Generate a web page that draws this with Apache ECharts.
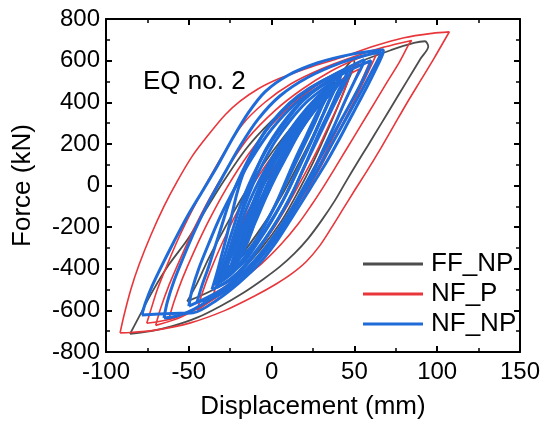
<!DOCTYPE html>
<html>
<head>
<meta charset="utf-8">
<script src="https://cdn.jsdelivr.net/npm/echarts@6/dist/echarts.min.js"></script>
<style>
  html, body { margin: 0; padding: 0; background: #fff; }
  #chart { width: 544px; height: 426px; }
</style>
</head>
<body>
<div id="chart"></div>
<script>
// Hysteresis loops, displacement (mm) vs force (kN), EQ no. 2
const seriesNames = ['FF_NP', 'NF_P', 'NF_NP'];

// FF_NP loops (each closed: upper branch, then lower branch back to start)
const ffLoopLarge = [
  [-85.5,-713],[-80,-630],[-72,-510],[-62,-380],[-51,-262],[-40,-120],[-29,20],[-15,180],[0,310],[15,415],[32,510],[52,590],[72,650],[86,685],[92.6,693],
  [94.6,668],[90,610],[82,505],[74,400],[66,295],[58,190],[51,100],[45,20],[38,-75],[30,-170],[22,-255],[14,-325],[5,-390],[-5,-450],[-17,-515],[-31,-580],[-45,-635],[-60,-676],[-73,-700],[-85.5,-713]
];
const ffLoopMid = [
  [-51,-557],[-45,-470],[-38,-350],[-28,-200],[-18,-60],[-6,90],[8,240],[22,370],[35,480],[44,560],[49.3,604],
  [50,590],[46,500],[40,380],[33,250],[25,110],[16,-30],[6,-170],[-6,-300],[-20,-420],[-35,-500],[-51,-557]
];
const ffLoopSmall = [
  [-30,-420],[-24,-300],[-15,-150],[-5,0],[7,150],[20,300],[30,410],[38,500],
  [38,480],[33,380],[25,240],[16,100],[6,-50],[-6,-200],[-18,-330],[-30,-420]
];

// NF_P loops
const nfpLoopOuter = [
  [-91.5,-708],[-89,-620],[-85,-500],[-80,-380],[-73,-240],[-65,-100],[-57,20],[-48,140],[-38,245],[-28,340],[-19,405],[-8,465],[5,515],[22,565],[42,615],[62,670],[80,710],[97,731],[107.3,738],
  [105.7,716],[98,610],[90,505],[82,400],[74,290],[66,180],[58,75],[50,-25],[43,-115],[36,-205],[29,-290],[21,-365],[12,-425],[3,-472],[-10,-530],[-28,-600],[-49,-660],[-70,-695],[-85,-706],[-91.5,-708]
];
const nfpLoop2 = [
  [-75.4,-662],[-73,-600],[-69,-500],[-63,-380],[-56,-250],[-48,-120],[-40,0],[-30,140],[-18,290],[-4,400],[12,490],[30,560],[50,620],[68,665],[84.6,697],
  [83,680],[77,590],[70,500],[62,395],[54,290],[46,185],[38,80],[31,-10],[24,-95],[16,-185],[6,-280],[-6,-375],[-21,-470],[-40,-570],[-58,-635],[-75.4,-662]
];
const nfpLoop3 = [
  [-70,-672],[-67,-590],[-62,-480],[-55,-350],[-47,-210],[-38,-70],[-27,80],[-14,230],[2,360],[18,460],[36,550],[52,610],[64,645],
  [63,625],[58,540],[52,440],[45,330],[38,220],[31,110],[24,10],[17,-90],[8,-200],[-3,-310],[-17,-420],[-35,-540],[-54,-630],[-70,-672]
];
const nfpLoop4 = [
  [-62,-640],[-59,-560],[-54,-450],[-47,-320],[-38,-170],[-27,-10],[-14,150],[1,300],[17,420],[35,520],[50,575],[59,590],
  [58,570],[53,480],[46,370],[39,260],[32,150],[25,40],[18,-60],[9,-170],[-2,-290],[-16,-410],[-33,-530],[-50,-605],[-62,-640]
];
const nfpLoop5 = [
  [-45,-600],[-42,-520],[-37,-410],[-30,-280],[-21,-130],[-10,20],[3,170],[17,310],[31,430],[44,520],[53,560],
  [52,540],[47,450],[41,340],[34,220],[27,110],[20,0],[12,-110],[2,-240],[-11,-370],[-26,-490],[-45,-600]
];
const nfpLoop6 = [
  [-35,-520],[-30,-400],[-22,-250],[-12,-90],[0,70],[14,230],[28,380],[40,480],[47,530],
  [46,500],[41,400],[34,280],[27,160],[19,40],[10,-90],[0,-220],[-12,-350],[-24,-460],[-35,-520]
];

// NF_NP loops, outer ones first, then the dense inner core
const nfnpLoop1 = [
  [-78.4,-622],[-76,-560],[-72,-480],[-66,-380],[-59,-270],[-51,-150],[-42,-30],[-33,90],[-24,220],[-14,350],[-4,450],[10,530],[28,590],[48,630],[67.5,652],
  [67,630],[63,560],[58,480],[52,390],[46,300],[40,210],[33,110],[26,20],[19,-70],[11,-170],[2,-280],[-8,-380],[-20,-470],[-33,-550],[-47.5,-612],[-60,-615],[-78.4,-622]
];
const nfnpLoop2 = [
  [-65,-637],[-63,-560],[-59,-460],[-53,-340],[-46,-210],[-38,-80],[-29,50],[-19,190],[-8,320],[5,430],[22,520],[42,590],[58,628],[66,640],
  [65,615],[60,540],[54,450],[47,350],[40,250],[33,150],[26,50],[19,-40],[12,-130],[4,-230],[-6,-330],[-18,-430],[-32,-520],[-47,-595],[-57,-627],[-65,-637]
];
const nfnpLoop3 = [
  [-50,-580],[-48,-500],[-44,-400],[-38,-280],[-31,-150],[-22,-10],[-12,130],[0,270],[14,390],[30,480],[46,550],[60,600],
  [59,575],[54,490],[48,400],[41,300],[34,200],[27,100],[20,0],[13,-100],[5,-200],[-4,-300],[-15,-400],[-30,-500],[-50,-580]
];
const nfnpLoop4 = [
  [-45,-560],[-42,-480],[-38,-390],[-34,-290],[-30,-190],[-26,-90],[-21,10],[-15,110],[-8,210],[1,310],[12,400],[26,480],[42,550],[56,605],
  [55,580],[50,500],[44,400],[38,290],[31,170],[25,60],[18,-50],[11,-150],[2,-260],[-8,-360],[-20,-460],[-33,-530],[-45,-560]
];
const nfnpLoop5 = [
  [-36,-500],[-33,-420],[-30,-330],[-27,-240],[-24,-140],[-21,-40],[-17,60],[-11,160],[-4,260],[5,350],[16,430],[30,500],[46,555],
  [45,530],[40,450],[35,360],[29,260],[23,150],[17,40],[11,-60],[4,-160],[-4,-260],[-13,-360],[-24,-450],[-36,-500]
];
const nfnpLoop6 = [
  [-33,-490],[-30,-410],[-26,-320],[-22,-220],[-18,-120],[-14,-20],[-9,80],[-3,180],[5,280],[14,370],[25,450],[38,515],[48,560],
  [47,535],[42,455],[36,360],[30,260],[24,160],[18,60],[13,-30],[7,-120],[0,-210],[-8,-300],[-17,-390],[-25,-450],[-33,-490]
];
const nfnpLoop7 = [
  [-34,-480],[-31,-400],[-27,-300],[-23,-200],[-19,-100],[-14,0],[-8,100],[-1,200],[8,300],[18,400],[30,480],[42,535],
  [41,510],[36,430],[31,340],[26,250],[21,160],[15,60],[9,-40],[2,-140],[-6,-240],[-15,-340],[-25,-430],[-34,-480]
];
const nfnpLoop8 = [
  [-31,-460],[-28,-380],[-24,-280],[-20,-180],[-16,-90],[-11,10],[-5,110],[2,210],[11,310],[21,400],[32,470],[41,520],
  [40,495],[35,410],[30,320],[25,230],[19,130],[13,30],[7,-70],[0,-170],[-8,-270],[-17,-370],[-31,-460]
];
const nfnpLoop9 = [
  [-28,-430],[-26,-360],[-22,-270],[-18,-170],[-13,-70],[-7,30],[0,130],[8,230],[17,330],[27,420],[37,490],
  [36,465],[31,390],[26,300],[20,200],[14,100],[8,0],[2,-100],[-5,-200],[-12,-300],[-20,-380],[-28,-430]
];
const nfnpLoop10 = [
  [-24,-380],[-21,-290],[-16,-180],[-10,-60],[-3,60],[5,170],[14,280],[24,380],[33,440],
  [32,415],[27,340],[21,240],[15,140],[9,30],[3,-80],[-4,-190],[-13,-300],[-24,-380]
];
const nfnpLoop11 = [
  [-30,-450],[-26,-370],[-21,-270],[-16,-170],[-11,-80],[-6,10],[0,100],[7,200],[15,300],[24,390],[34,460],[42,510],
  [41,490],[33,430],[25,350],[17,260],[10,170],[4,80],[-1,-10],[-7,-110],[-13,-220],[-21,-340],[-30,-450]
];
const nfnpLoop12 = [
  [-26,-430],[-22,-340],[-17,-230],[-12,-130],[-7,-30],[-1,70],[6,170],[14,270],[23,360],[32,430],[38,480],
  [37,455],[29,390],[21,310],[14,220],[8,130],[2,40],[-4,-60],[-10,-170],[-17,-290],[-26,-430]
];
const nfnpLoop13 = [
  [-22,-400],[-18,-310],[-13,-200],[-8,-100],[-3,0],[3,100],[10,200],[18,300],[27,390],[35,450],
  [34,430],[25,360],[17,280],[10,190],[4,100],[-2,10],[-8,-90],[-14,-200],[-19,-300],[-22,-400]
];
const nfnpLoop14 = [
  [-27,-440],[-23,-350],[-19,-260],[-15,-170],[-11,-80],[-6,20],[1,130],[9,240],[19,340],[30,430],[40,495],
  [39,470],[30,400],[22,320],[15,230],[9,140],[3,50],[-3,-50],[-9,-160],[-15,-270],[-21,-370],[-27,-440]
];
const nfnpLoop15 = [
  [-20,-360],[-17,-270],[-13,-170],[-9,-80],[-4,20],[2,120],[9,220],[17,310],[26,390],[33,440],
  [32,420],[24,350],[16,260],[9,170],[3,80],[-3,-20],[-8,-120],[-12,-220],[-16,-300],[-20,-360]
];

const ffLoops = [ffLoopLarge, ffLoopMid, ffLoopSmall];
const nfpLoops = [nfpLoopOuter, nfpLoop2, nfpLoop3, nfpLoop4, nfpLoop5, nfpLoop6];
const nfnpLoops = [nfnpLoop1, nfnpLoop2, nfnpLoop3, nfnpLoop4, nfnpLoop5, nfnpLoop6, nfnpLoop7,
                   nfnpLoop8, nfnpLoop9, nfnpLoop10, nfnpLoop11, nfnpLoop12, nfnpLoop13,
                   nfnpLoop14, nfnpLoop15];

const colors = { FF_NP: '#4d4d4d', NF_P: '#e8363b', NF_NP: '#1f6bd8' };
const widths = { FF_NP: 1.8, NF_P: 1.6, NF_NP: 3 };
const FONT = 'Liberation Sans, Arial, sans-serif';

function loopSeries(name, loops) {
  return loops.map(loop => ({
    name: name,
    type: 'line',
    data: loop,
    symbol: 'none',
    smooth: 0.3,
    animation: false,
    lineStyle: { color: colors[name], width: widths[name] },
    itemStyle: { color: colors[name] }
  }));
}

const series = []
  .concat(loopSeries('FF_NP', ffLoops))
  .concat(loopSeries('NF_P', nfpLoops))
  .concat(loopSeries('NF_NP', nfnpLoops));

const axisCommon = {
  axisLine: { show: true, onZero: false, lineStyle: { color: '#000', width: 2 } },
  axisTick: { show: true, inside: true, length: 6, lineStyle: { color: '#000', width: 2 } },
  minorTick: { show: true, splitNumber: 2, length: 4, lineStyle: { color: '#000', width: 1.5 } },
  splitLine: { show: false }
};

const chart = echarts.init(document.getElementById('chart'), null, { renderer: 'canvas' });
chart.setOption({
  animation: false,
  backgroundColor: '#fff',
  grid: { left: 106, right: 24, top: 19, bottom: 74 },
  title: {
    text: 'EQ no. 2', left: 138, top: 64,
    textStyle: { fontFamily: FONT, fontSize: 26, fontWeight: 'normal', color: '#000' }
  },
  legend: {
    data: seriesNames,
    orient: 'vertical',
    left: 358, top: 246,
    itemWidth: 60, itemHeight: 14, itemGap: 4,
    icon: 'path://M0,0 L60,0 L60,3 L0,3 Z',
    textStyle: { fontFamily: FONT, fontSize: 26, color: '#000', padding: [0, 0, 0, 3] }
  },
  xAxis: [
    Object.assign({
      type: 'value', position: 'bottom', min: -100, max: 150, interval: 50,
      name: 'Displacement (mm)', nameLocation: 'middle', nameGap: 42,
      nameTextStyle: { fontFamily: FONT, fontSize: 26, color: '#000' },
      axisLabel: { fontFamily: FONT, fontSize: 24, color: '#000', margin: 8 }
    }, axisCommon),
    Object.assign({
      type: 'value', position: 'top', min: -100, max: 150, interval: 50,
      axisLabel: { show: false }
    }, axisCommon)
  ],
  yAxis: [
    Object.assign({
      type: 'value', position: 'left', min: -800, max: 800, interval: 200,
      name: 'Force (kN)', nameLocation: 'middle', nameGap: 70,
      nameTextStyle: { fontFamily: FONT, fontSize: 26, color: '#000' },
      axisLabel: { fontFamily: FONT, fontSize: 24, color: '#000', margin: 6 }
    }, axisCommon),
    Object.assign({
      type: 'value', position: 'right', min: -800, max: 800, interval: 200,
      axisLabel: { show: false }
    }, axisCommon)
  ],
  series: series
});
</script>
</body>
</html>
